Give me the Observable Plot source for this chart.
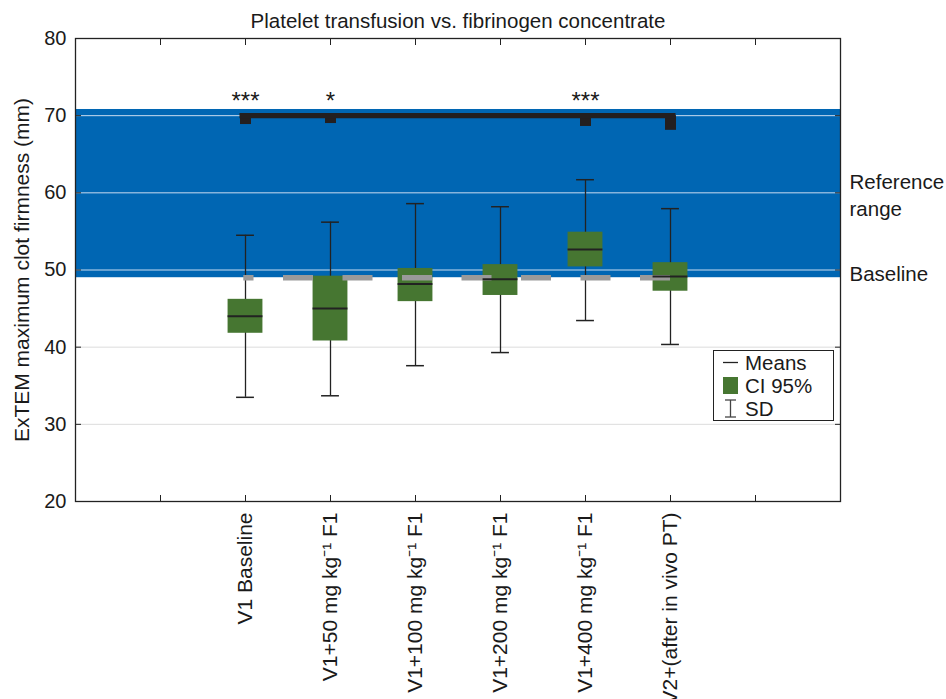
<!DOCTYPE html>
<html><head><meta charset="utf-8">
<script src="https://cdn.jsdelivr.net/npm/d3@7"></script>
<script src="https://cdn.jsdelivr.net/npm/@observablehq/plot@0.6"></script>
<style>
body{margin:0;background:#fff;font-family:"Liberation Sans",Arial,Helvetica,sans-serif;}
#wrap{position:relative;width:946px;height:699px;}
#legend{position:absolute;left:713px;top:350px;width:121px;height:71px;border:1px solid #222;background:#fff;font-size:20.5px;color:#1a1a1a;box-sizing:border-box;}
#legend .row{position:absolute;left:0;height:23px;line-height:23px;}
#legend .lab{position:absolute;left:31px;white-space:nowrap;}
#legend svg{position:absolute;left:7px;top:0;}
</style></head><body><div id="wrap"></div>
<script>
const title = "Platelet transfusion vs. fibrinogen concentrate";
const yLabel = "ExTEM maximum clot firmness (mm)";
const categories = ["V1 Baseline", "V1+50 mg kg\u207B\u00B9 F1", "V1+100 mg kg\u207B\u00B9 F1", "V1+200 mg kg\u207B\u00B9 F1", "V1+400 mg kg\u207B\u00B9 F1", "V2+(after in vivo PT)"];
const means  = [44.0, 45.0, 48.2, 48.8, 52.65, 49.15];
const ciLow  = [41.8, 40.8, 45.9, 46.7, 50.4, 47.25];
const ciHigh = [46.2, 49.2, 50.2, 50.7, 54.9, 50.95];
const sdLow  = [33.5, 33.7, 37.6, 39.3, 43.45, 40.35];
const sdHigh = [54.5, 56.2, 58.6, 58.2, 61.7, 57.95];
const refRange = [49.0, 70.8];
const baselineMean = 49.0;
const yTicks = [20, 30, 40, 50, 60, 70, 80];
const sigGroups = [0, 1, 4, 5];
const sigStars = ["***", "*", "***", ""];
const sigBottoms = [68.85, 68.98, 68.6, 68.1];
const bracketLevel = 70.0;
const starLevel = 71.9;
const legendLabels = ["Means", "CI 95%", "SD"];

const blue = "#0066b3", green = "#467631", gray = "#9a9a9a", dark = "#222222";
const offset = 3; // first category slot
const xDomain = [1, categories.length + 4];
const slotTicks = d3.range(2, categories.length + 4);
const rows = categories.map((c, i) => ({cat: c, pos: i + offset, mean: means[i], lo: ciLow[i], hi: ciHigh[i], sdLo: sdLow[i], sdHi: sdHigh[i]}));
const sig = sigGroups.map((g, k) => ({pos: g + offset, stars: sigStars[k], bottom: sigBottoms[k]}));
const firstPos = offset, lastPos = categories.length - 1 + offset;
const hw = 0.205, cap = 0.105;

const chart = Plot.plot({
  width: 946, height: 699,
  marginLeft: 75, marginRight: 106, marginTop: 38, marginBottom: 198,
  style: {fontFamily: '"Liberation Sans", Arial, Helvetica, sans-serif', fontSize: "20px", color: "#1a1a1a", background: "white"},
  x: {domain: xDomain, axis: null},
  y: {domain: [yTicks[0], yTicks[yTicks.length - 1]], axis: null},
  marks: [
    Plot.rect([refRange], {x1: xDomain[0], x2: xDomain[1], y1: d => d[0], y2: d => d[1], fill: blue}),
    Plot.ruleY(yTicks.slice(1, -1), {stroke: d => (d >= refRange[0] && d <= refRange[1]) ? "#c9dcf0" : "#dcdcdc", strokeWidth: 1}),
    Plot.ruleX(rows, {x: "pos", y1: "sdLo", y2: "sdHi", stroke: dark, strokeWidth: 1.3}),
    Plot.ruleY(rows, {y: "sdHi", x1: d => d.pos - cap, x2: d => d.pos + cap, stroke: dark, strokeWidth: 1.5}),
    Plot.ruleY(rows, {y: "sdLo", x1: d => d.pos - cap, x2: d => d.pos + cap, stroke: dark, strokeWidth: 1.5}),
    Plot.rect(rows, {x1: d => d.pos - hw, x2: d => d.pos + hw, y1: "lo", y2: "hi", fill: green}),
    Plot.ruleY([baselineMean], {x1: lastPos, x2: firstPos - 0.02, stroke: gray, strokeWidth: 5.6, strokeDasharray: "30,29.5"}),
    Plot.ruleY(rows, {y: "mean", x1: d => d.pos - hw, x2: d => d.pos + hw, stroke: dark, strokeWidth: 2}),
    Plot.ruleX(sig, {x: "pos", y1: bracketLevel, y2: "bottom", stroke: "#231f20", strokeWidth: 11}),
    Plot.ruleY([bracketLevel], {x1: firstPos, x2: lastPos, insetLeft: -5.5, insetRight: -5.5, stroke: "#231f20", strokeWidth: 5.4}),
    Plot.text(sig.filter(d => d.stars), {x: "pos", y: starLevel, text: "stars", fontSize: 24, fill: "#1a1a1a"}),
    Plot.text(["Reference\nrange"], {x: xDomain[1], y: (refRange[0] + refRange[1]) / 2, dx: 9, textAnchor: "start", lineHeight: 1.35, fontSize: 20.5, fill: "#1a1a1a"}),
    Plot.text(["Baseline"], {x: xDomain[1], y: baselineMean, dx: 9, dy: -3, textAnchor: "start", fontSize: 20.5, fill: "#1a1a1a"}),
    Plot.axisY({ticks: yTicks, tickSize: 0, tickPadding: 9, fontSize: 20, label: null}),
    Plot.axisY({ticks: yTicks, tickSize: 6, dx: 6, tickFormat: () => "", label: null, stroke: dark}),
    Plot.axisY({anchor: "right", ticks: yTicks, tickSize: 6, dx: -6, tickFormat: () => "", label: null, stroke: dark}),
    Plot.axisX({ticks: rows.map(d => d.pos), tickFormat: p => categories[p - offset], tickRotate: -90, tickSize: 0, tickPadding: 11, fontSize: 21, label: null}),
    Plot.axisX({ticks: slotTicks, tickSize: 6, dy: -6, tickFormat: () => "", label: null, stroke: dark}),
    Plot.axisX({anchor: "top", ticks: slotTicks, tickSize: 6, dy: 6, tickFormat: () => "", label: null, stroke: dark}),
    Plot.frame({stroke: dark, strokeWidth: 1.3}),
    Plot.text([title], {frameAnchor: "top", lineAnchor: "middle", dy: -17, fontSize: 20.5, fill: "#1a1a1a"}),
    Plot.text([yLabel], {frameAnchor: "left", textAnchor: "middle", rotate: -90, dx: -53, fontSize: 21, fill: "#1a1a1a"})
  ]
});
const wrap = document.getElementById("wrap");
wrap.appendChild(chart);

// Legend (HTML overlay)
const leg = document.createElement("div");
leg.id = "legend";
const icons = [
  `<svg width="20" height="23"><line x1="2" x2="17" y1="11.5" y2="11.5" stroke="${dark}" stroke-width="1.3"/></svg>`,
  `<svg width="20" height="23"><rect x="2" y="3" width="15" height="17" fill="${green}"/></svg>`,
  `<svg width="20" height="23"><line x1="9.5" x2="9.5" y1="3" y2="20" stroke="#444" stroke-width="1.3"/><line x1="4" x2="15" y1="3" y2="3" stroke="#444" stroke-width="1.3"/><line x1="4" x2="15" y1="20" y2="20" stroke="#444" stroke-width="1.3"/></svg>`
];
legendLabels.forEach((lab, i) => {
  const r = document.createElement("div");
  r.className = "row";
  r.style.top = (0 + i * 23) + "px";
  r.style.width = "119px";
  r.innerHTML = icons[i] + `<span class="lab">${lab}</span>`;
  leg.appendChild(r);
});
wrap.appendChild(leg);
</script>
</body></html>
